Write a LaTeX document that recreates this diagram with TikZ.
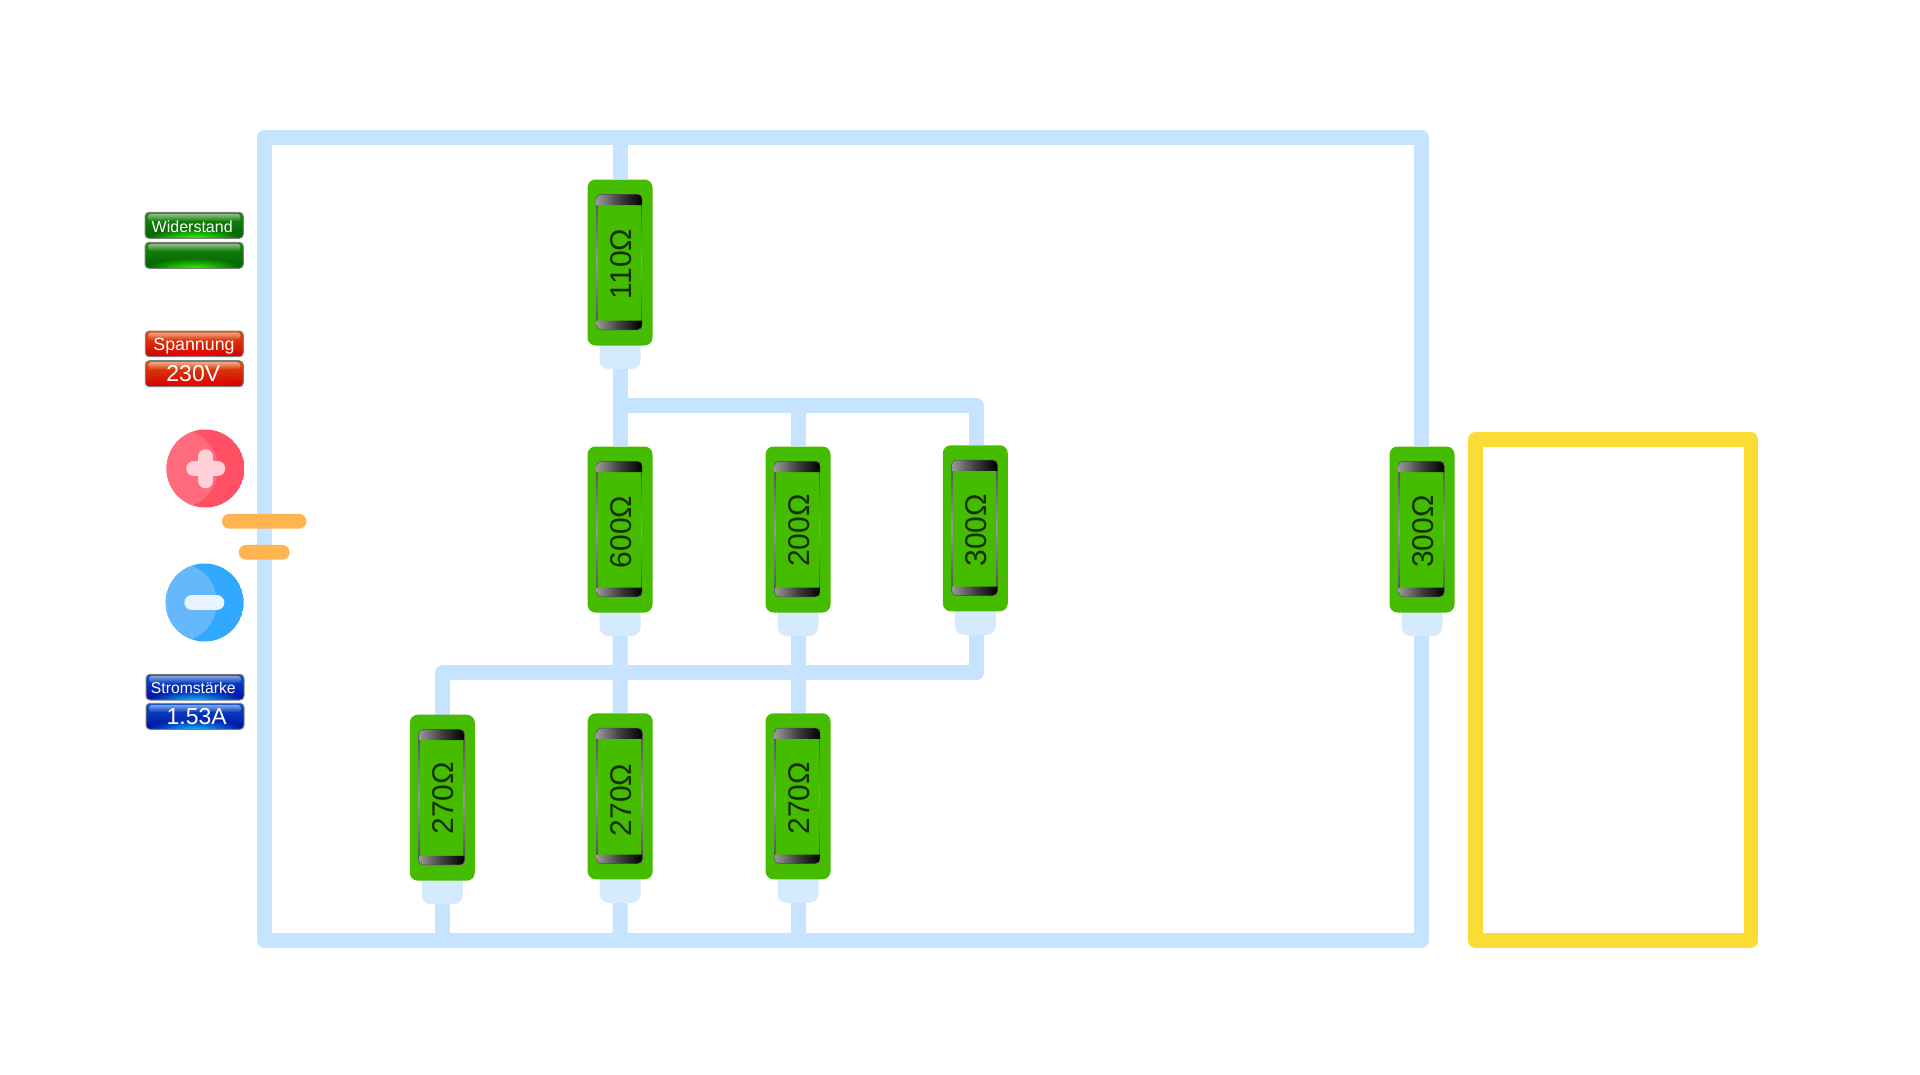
\documentclass[tikz,border=0pt]{standalone}
\usepackage{fontspec}
\setmainfont{Liberation Sans}
\usetikzlibrary{backgrounds,fadings}
\definecolor{wirec}{HTML}{C6E3FF}
\definecolor{stubc}{HTML}{D6EAFD}
\definecolor{resg}{HTML}{46BC00}
\definecolor{yel}{HTML}{FADC35}
\definecolor{orng}{HTML}{FFB44F}
\definecolor{redA}{HTML}{FF5064}
\definecolor{redB}{HTML}{FF6B7C}
\definecolor{redC}{HTML}{FFD0D8}
\definecolor{bluA}{HTML}{31A9FF}
\definecolor{bluB}{HTML}{64B8FB}
\definecolor{bluC}{HTML}{E8F4FE}
\definecolor{gT}{HTML}{1C8A0C}
\definecolor{gM}{HTML}{008400}
\definecolor{gN}{HTML}{3DB800}
\definecolor{gB}{HTML}{006000}
\definecolor{gG}{HTML}{30FF00}
\definecolor{rT}{HTML}{E05010}
\definecolor{rM}{HTML}{F02000}
\definecolor{rB}{HTML}{D00000}
\definecolor{rG}{HTML}{FF0000}
\definecolor{bT}{HTML}{0A50D0}
\definecolor{bM}{HTML}{0038E0}
\definecolor{bB}{HTML}{000CA0}
\definecolor{bG}{HTML}{10B8FF}
\tikzfading[name=glowf, inner color=transparent!0, outer color=transparent!100]
\tikzset{
  wire/.style={line width=15pt, draw=wirec, line join=round},
  resbody/.style={rectangle, rounded corners=8pt, fill=resg, minimum width=65pt, minimum height=166pt, inner sep=0pt},
  resstub/.style={rectangle, rounded corners=9pt, fill=stubc, minimum width=41pt, minimum height=29.5pt, inner sep=0pt},
  reslabel/.style={rotate=90, font=\fontsize{30}{30}\selectfont, text=black!75!resg, inner sep=0pt},
  btnlabel/.style={text=white, inner sep=0pt},
  batbar/.style={rectangle, rounded corners=7pt, fill=orng, minimum height=14.7pt, inner sep=0pt},
  rescap/.style={left color=black!40, right color=black, middle color=black!75}
}
% name, x, y, text, text dy
\newcommand{\resunit}[5]{%
  \begin{scope}[shift={(#2,#3)}]
    \node[resstub] (#1s) at (0,91.75) {};
    \node[resbody] (#1) at (0,0) {};
    \shade[rounded corners=5pt, top color=black!70, bottom color=black!70, middle color=black!40]
      (-24,-68.5) rectangle (22.7,67.5);
    \fill[resg] (-22,-57.5) rectangle (20.7,58.2);
    \shade[rescap] (-23.5,-57.5) [rounded corners=5pt] -- (-23.5,-68) -- (22,-68) [sharp corners] -- (22,-57.5) -- cycle;
    \shade[rescap] (-23.5,58.2) [rounded corners=5pt] -- (-23.5,67) -- (22,67) [sharp corners] -- (22,58.2) -- cycle;
    \node[reslabel] (#1t) at (1.2,#5) {#4};
  \end{scope}}
\newcommand{\glossbtn}[9]{%
  \def\btnname{#1}\def\btnxa{#2}\def\btnya{#3}\def\btnxb{#4}\def\btnyb{#5}%
  \def\btntop{#6}\def\btnmid{#7}\def\btnbot{#8}\def\btnglow{#9}\glossbtnb}
% text, font size, text x, text y
\newcommand{\glossbtnb}[4]{%
  \begin{scope}
    \clip[rounded corners=4pt] (\btnxa,\btnya) rectangle (\btnxb,\btnyb);
    \shade[top color=\btntop, middle color=\btnmid, bottom color=\btnbot] (\btnxa,\btnya) rectangle (\btnxb,\btnyb);
    \fill[\btnglow, path fading=glowf] ({(\btnxa+\btnxb)/2-48},\btnyb-10) rectangle ({(\btnxa+\btnxb)/2+48},\btnyb+10);
  \end{scope}
  \fill[white, opacity=.5, rounded corners=3pt, path fading=south] (\btnxa+3,\btnya+1.5) rectangle (\btnxb-3,\btnya+9);
  \draw[black!50, line width=1pt, rounded corners=4pt] (\btnxa,\btnya) rectangle (\btnxb,\btnyb);
  \node[btnlabel, font=\fontsize{#2}{#2}\selectfont] (\btnname) at (#3,#4) {#1};}
\begin{document}
\begin{tikzpicture}[x=1pt,y=-1pt]
  \useasboundingbox (0,0) rectangle (1920,1074);

  % resistors
  \resunit{Ra}{620}{262.5}{110Ω}{1.5}
  \resunit{Rb}{620}{529.5}{600Ω}{2.5}
  \resunit{Rc}{798}{529.5}{200Ω}{1}
  \resunit{Rd}{975.3}{528.3}{300Ω}{2}
  \resunit{Re}{1422}{529.5}{300Ω}{2}
  \resunit{Rf}{442.3}{797.7}{270Ω}{0.7}
  \resunit{Rg}{620.2}{796.3}{270Ω}{3.5}
  \resunit{Rh}{798}{796.3}{270Ω}{2}

  % battery bars
  \node[batbar, minimum width=84.3pt] (batP) at (264.2,521.3) {};
  \node[batbar, minimum width=50.7pt] (batN) at (264.2,552.3) {};

  % lamp frame
  \node[rectangle, draw=yel, line width=14.5pt, line join=round, minimum width=275.5pt, minimum height=501pt, inner sep=0pt] (lamp) at (1613.3,690) {};

  % junctions and corners
  \coordinate (cTL) at (264.2,137.5);
  \coordinate (jTop) at (620,137.5);
  \coordinate (cTR) at (1421.8,137.5);
  \coordinate (cBL) at (264.2,940);
  \coordinate (cBR) at (1421.8,940);
  \coordinate (jBf) at (442.3,940);
  \coordinate (jBg) at (620,940);
  \coordinate (jBh) at (798,940);
  \coordinate (jUa) at (620,405.8);
  \coordinate (jUc) at (798,405.8);
  \coordinate (cUd) at (976,405.8);
  \coordinate (cLd) at (976,672.7);
  \coordinate (cLf) at (442.3,672.7);

  \begin{pgfonlayer}{background}
    \draw[wire] (batP.center) -- (cTL) -- (cTR) -- (cTR |- Re.north);
    \draw[wire] (batP.center) -- (batN.center);
    \draw[wire] (batN.center) -- (cBL) -- (cBR) -- (cBR |- Res.south);
    \draw[wire] (jTop) -- (Ra.north);
    \draw[wire] (Ras.south) -- (Rb.north);
    \draw[wire] (jUa) -- (cUd) -- (cUd |- Rd.north);
    \draw[wire] (jUc) -- (Rc.north);
    \draw[wire] (Rbs.south) -- (Rg.north);
    \draw[wire] (Rcs.south) -- (Rh.north);
    \draw[wire] (cUd |- Rds.south) -- (cLd) -- (cLf) -- (cLf |- Rf.north);
    \draw[wire] (Rfs.south) -- (jBf);
    \draw[wire] (Rgs.south) -- (jBg);
    \draw[wire] (Rhs.south) -- (jBh);
  \end{pgfonlayer}

  % poles
  \begin{scope}
    \clip (205.5,468.5) circle (39);
    \fill[redA] (205.5,468.5) circle (39);
    \fill[redB] (179,468.5) circle (39);
  \end{scope}
  \draw[redC, line width=14.5pt, line cap=round] (193.5,468.5) -- (218,468.5);
  \draw[redC, line width=14.5pt, line cap=round] (205.5,456.5) -- (205.5,481);
  \begin{scope}
    \clip (204.7,602.5) circle (39);
    \fill[bluA] (204.7,602.5) circle (39);
    \fill[bluB] (178,602.5) circle (39);
  \end{scope}
  \draw[bluC, line width=14.7pt, line cap=round] (191.7,602.7) -- (217,602.7);

  % labels
  \glossbtn{bW}{145}{212.3}{243.3}{238.3}{gT}{gM}{gB}{gG}{Widerstand}{16}{192.2}{226.5}
  \glossbtn{bR}{145}{242.3}{243.3}{268.3}{gT}{gN}{gB}{gG}{}{16}{194}{255}
  \glossbtn{bS}{145.3}{331}{243.3}{356.7}{rT}{rM}{rB}{rG}{Spannung}{17.8}{194}{346}
  \glossbtn{bU}{145.3}{360.7}{243.3}{386.7}{rT}{rM}{rB}{rG}{230V}{23}{193.3}{374}
  \glossbtn{bI}{146}{674.3}{244}{700}{bT}{bM}{bB}{bG}{Stromstärke}{15.7}{193.3}{688}
  \glossbtn{bA}{146}{703.3}{244}{729.3}{bT}{bM}{bB}{bG}{1.53A}{23}{196.7}{717}
\end{tikzpicture}
\end{document}
